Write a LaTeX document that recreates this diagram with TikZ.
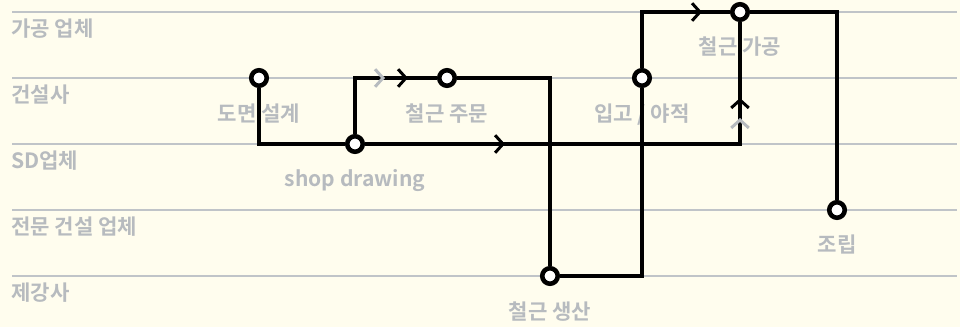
\documentclass[tikz,border=0pt]{standalone}
\usepackage{fontspec}
\newfontfamily\kofont{Noto Sans CJK KR Bold}
\usetikzlibrary{arrows.meta,decorations.markings,positioning}

\definecolor{paper}{RGB}{255,253,238}
\definecolor{lanegray}{RGB}{192,196,200}
\definecolor{textgray}{RGB}{183,187,191}

\tikzset{
  stop/.style={circle,draw,line width=2.6pt,fill=white,minimum size=0.31cm,inner sep=0pt},
  lane/.style={draw=lanegray,line width=0.6pt},
  lbl/.style={font=\kofont\fontsize{12}{14}\selectfont,text=textgray,inner sep=0pt},
  route/.style={line width=2.2pt},
  chev/.style={postaction={decorate,decoration={markings,
      mark=at position #1 with {\arrow{Straight Barb[length=4.5pt,width=10pt,line width=1.7pt]}}}}},
  ghostchev/.style={postaction={decorate,decoration={markings,
      mark=at position #1 with {\arrow{Straight Barb[length=4.5pt,width=10pt,line width=1.7pt,color=textgray]}}}}}
}

\begin{document}
\begin{tikzpicture}[x=0.02cm,y=-0.02cm]
    \fill[paper] (0,0) rectangle (960,327);
    \useasboundingbox (0,0) rectangle (960,327);

    % lanes
    \draw[lane] (12,12)--(957,12);
    \draw[lane] (12,78)--(957,78);
    \draw[lane] (12,144)--(957,144);
    \draw[lane] (12,210)--(957,210);
    \draw[lane] (12,276)--(957,276);
    \node[lbl,anchor=north west] (proclane) at (11,18) {가공 업체};
    \node[lbl,anchor=north west] (buildlane) at (11,84) {건설사};
    \node[lbl,anchor=north west] (sdlane) at (11,150) {SD업체};
    \node[lbl,anchor=north west] (sublane) at (11,216) {전문 건설 업체};
    \node[lbl,anchor=north west] (milllane) at (11,282) {제강사};

    % stops
    \node[stop] (dwg) at (259,78) {};
    \node[stop] (shop) at (355,144) {};
    \node[stop] (order) at (447,78) {};
    \node[stop] (prod) at (550,276) {};
    \node[stop] (yard) at (642,78) {};
    \node[stop] (proc) at (740,12) {};
    \node[stop] (asm) at (837,210) {};

    \node[lbl,below=0.3cm of dwg] (dwglbl) {도면 설계};
    \node[lbl,below=0.3cm of shop] (shoplbl) {shop drawing};
    \node[lbl,below=0.3cm of order] (orderlbl) {철근 주문};
    \node[lbl,below=0.3cm of prod] (prodlbl) {철근 생산};
    \node[lbl,below=0.3cm of yard] (yardlbl) {입고 / 야적};
    \node[lbl,below=0.28cm of proc] (proclbl) {철근 가공};
    \node[lbl,below=0.28cm of asm] (asmlbl) {조립};

    % routes
    \draw[route] (dwg) |- (shop);
    \draw[route,ghostchev=-1.04cm,chev=-0.58cm] (shop) |- (order);
    \draw[route] (order) -| (prod);
    \draw[route] (prod) -| (yard);
    \draw[route,chev=-0.56cm] (yard) |- (proc);
    \draw[route,chev=2.8cm,ghostchev=-1.92cm,chev=-1.52cm] (shop) -| (proc);
    \draw[route] (proc) -| (asm);
\end{tikzpicture}
\end{document}
